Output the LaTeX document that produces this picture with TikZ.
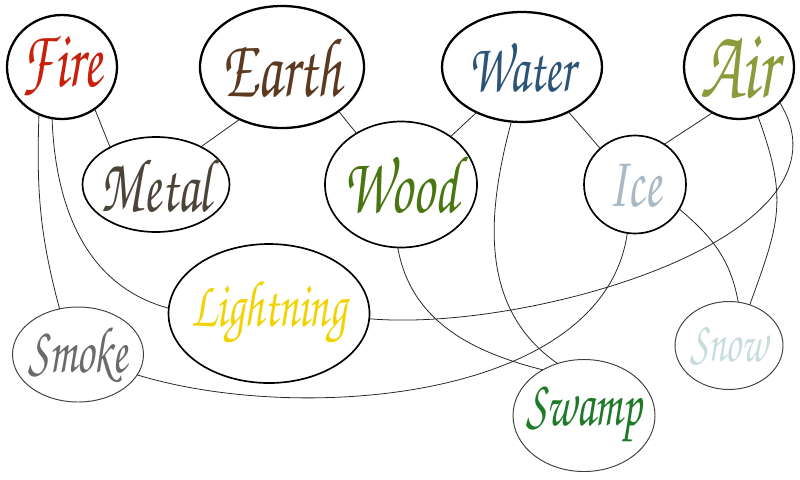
\documentclass[tikz,border=0pt]{standalone}
\usepackage[T1,TU]{fontenc}
\usepackage{xcolor}
\usepackage{tikz}
\usetikzlibrary{positioning}
\usetikzlibrary{shapes.geometric}

\definecolor{firecol}{RGB}{200,32,10}
\definecolor{earthcol}{RGB}{92,58,34}
\definecolor{metalcol}{RGB}{76,68,56}
\definecolor{woodcol}{RGB}{74,118,18}
\definecolor{watercol}{RGB}{44,84,120}
\definecolor{aircol}{RGB}{140,154,60}
\definecolor{icecol}{RGB}{168,184,196}
\definecolor{lightningcol}{RGB}{242,210,0}
\definecolor{smokecol}{RGB}{106,106,106}
\definecolor{swampcol}{RGB}{30,122,40}
\definecolor{snowcol}{RGB}{200,220,220}

\begin{document}
\begin{tikzpicture}[elem/.style 2 args={ellipse,draw,minimum width=#1,minimum height=#2,inner sep=0pt,outer sep=0pt},
        major/.style={line width=1.3pt},
        minor/.style={line width=0.95pt},
        faint/.style={draw=black!75,line width=0.55pt},
        word/.style={font={\fontencoding{T1}\fontfamily{pzc}\fontsize{#1}{#1}\selectfont},yscale=1.5,transform shape},
        link/.style={draw=black!85,line width=0.45pt}]
        \useasboundingbox (0,0) rectangle (16,-9.58);

        \node[elem={2.2cm}{2.08cm},major,label={[word=31,text=firecol]center:Fire}] (fire) at (1.24,-1.34) {};
        \node[elem={3.28cm}{2.44cm},major,right=1.66cm of fire,label={[word=32,text=earthcol]center:Earth}] (earth) {};
        \node[elem={3.2cm}{2.2cm},major,right=1.56cm of earth,label={[word=27,text=watercol]center:Water}] (water) {};
        \node[elem={2.2cm}{2.08cm},major,right=1.64cm of water,label={[word=38,text=aircol]center:Air}] (air) {};

        \node[elem={2.94cm}{1.9cm},minor,below=0.36cm of fire,xshift=1.88cm,label={[word=29,text=metalcol]center:Metal}] (metal) {};
        \node[elem={3.04cm}{2.52cm},minor,right=1.91cm of metal,label={[word=31,text=woodcol]center:Wood}] (wood) {};
        \node[elem={2.04cm}{1.96cm},minor,right=2.14cm of wood,label={[word=28,text=icecol]center:Ice}] (ice) {};

        \node[elem={4.02cm}{2.78cm},minor,below=0.24cm of metal,xshift=2.26cm,label={[word=25,text=lightningcol]center:Lightning}] (lightning) {};
        \node[elem={2.62cm}{1.9cm},faint,left=0.5cm of lightning,yshift=-0.82cm,label={[word=25,text=smokecol]center:Smoke}] (smoke) {};
        \node[elem={2.84cm}{2.24cm},faint,below=2.52cm of ice,xshift=-1.02cm,label={[word=25,text=swampcol]center:Swamp}] (swamp) {};
        \node[elem={2.16cm}{1.76cm},faint,below=1.36cm of ice,xshift=1.88cm,label={[word=22,text=snowcol]center:Snow}] (snow) {};

        % straight links
        \draw[link] (fire.-52) -- (metal.141);
        \draw[link] (earth.-129) -- (metal.40);
        \draw[link] (earth.-38) -- (wood.131);
        \draw[link] (water.-135) -- (wood.44);
        \draw[link] (water.-44) -- (ice.134);
        \draw[link] (air.-120) -- (ice.54);

        % curved links
        \draw[link] (fire.-116) to[out=-92,in=105] (smoke.112);
        \draw[link] (fire.-101) to[out=-88,in=165] (lightning.177);
        \draw[link] (wood.-93) to[out=-80,in=166] (swamp.132);
        \draw[link] (water.-101) to[out=-105,in=145] (swamp.117);
        \draw[link] (ice.-99) to[out=-98,in=-17,looseness=0.85] (smoke.-19);
        \draw[link] (air.-41) to[out=-58,in=-5,looseness=0.88] (lightning.-3);
        \draw[link] (air.-69) to[out=-70,in=70,looseness=1.2] (snow.63);
        \draw[link] (ice.-29) to[out=-40,in=100] (snow.78);

    \end{tikzpicture}
\end{document}
